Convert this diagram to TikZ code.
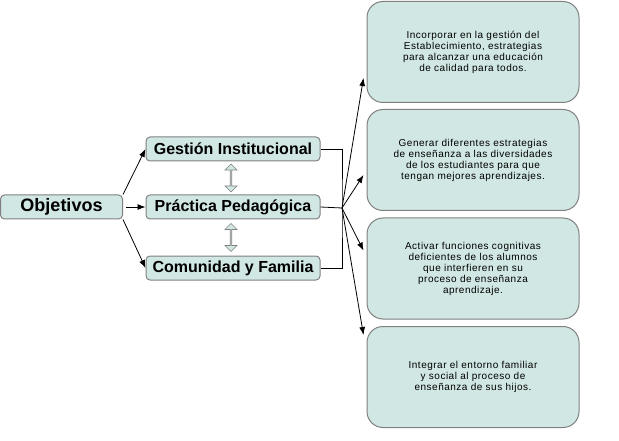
\documentclass[tikz,border=0pt]{standalone}
\usepackage{fontspec}
\setmainfont{Liberation Sans}
\usetikzlibrary{arrows.meta,shapes.arrows,calc}

\definecolor{boxfill}{RGB}{208,231,228}
\definecolor{boxline}{RGB}{128,128,128}

\tikzset{
  leftbox/.style={draw=boxline,fill=boxfill,rounded corners=4pt,line width=1pt,
    font=\fontsize{16}{18}\selectfont\bfseries,minimum height=24pt,inner sep=0pt},
  goalbox/.style={draw=boxline,fill=boxfill,rounded corners=16pt,line width=1pt,
    minimum width=212pt,minimum height=101pt,align=center,
    font=\addfontfeature{LetterSpace=5}\fontsize{10}{11}\selectfont},
  link/.style={-{Latex[length=8pt,width=6pt]},line width=0.8pt},
  joint/.style={line width=0.8pt},
  twoway/.style={draw=boxline,fill=boxfill,double arrow,rotate=90,minimum height=28pt,
    minimum width=12pt,inner sep=0pt,double arrow head extend=2.5pt,line width=0.7pt}
}

\begin{document}
\begin{tikzpicture}[x=1pt,y=-1pt]
\useasboundingbox (0,0) rectangle (619,441);
% left column
\node[leftbox,minimum width=122pt,font=\fontsize{18}{20}\selectfont\bfseries] (obj) at (61.5,207) {Objetivos};
\node[leftbox,minimum width=174pt] (gi) at (233,149) {Gestión Institucional};
\node[leftbox,minimum width=174pt] (pp) at (233,207) {Práctica Pedagógica};
\node[leftbox,minimum width=174pt] (cf) at (233,268) {Comunidad y Familia};
\node[twoway] (a1) at ($(gi.south)!0.5!(pp.north)+(-2,0)$) {};
\node[twoway] (a2) at ($(pp.south)!0.5!(cf.north)+(-2,0)$) {};
\draw[link] (obj.north east) -- (gi.west);
\draw[link] ([xshift=3pt]obj.east) -- (pp.west);
\draw[link] (obj.south east) -- (cf.west);
% right column
\node[goalbox] (g1) at (473,52) {Incorporar en la gestión del\\Establecimiento, estrategias\\para alcanzar una educación\\de calidad para todos.};
\node[goalbox] (g2) at (473,160) {Generar diferentes estrategias\\de enseñanza a las diversidades\\de los estudiantes para que\\tengan mejores aprendizajes.};
\node[goalbox] (g3) at (473,268.5) {Activar funciones cognitivas\\deficientes de los alumnos\\que interfieren en su\\proceso de enseñanza\\aprendizaje.};
\node[goalbox] (g4) at (473,377) {Integrar el entorno familiar\\y social al proceso de\\enseñanza de sus hijos.};
% bracket and fan
\coordinate (hub) at (342,208);
\draw[joint] (gi.east) -| (hub) |- (cf.east);
\draw[joint] (pp.east) -- (hub);
\coordinate (t1) at ([shift={(-3,26)}]g1.west);
\coordinate (t2) at ([shift={(-3,15)}]g2.west);
\coordinate (t3) at ([shift={(-3,-18)}]g3.west);
\coordinate (t4) at ([shift={(-3,-42)}]g4.west);
\foreach \t in {t1,t2,t3,t4}
  \draw[link] (hub) -- (\t);
\end{tikzpicture}
\end{document}
